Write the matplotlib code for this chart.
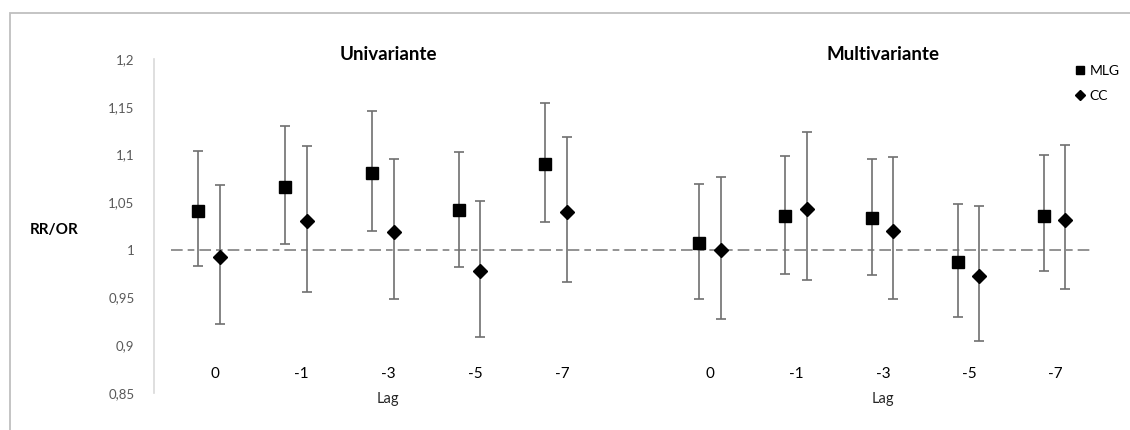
import matplotlib.pyplot as plt
from matplotlib.patches import Rectangle

# Dados
lags = ['0', '-1', '-3', '-5', '-7']

# Univariante
mlg_uni = [1.041, 1.066, 1.081, 1.042, 1.090]
mlg_uni_lo = [0.983, 1.006, 1.020, 0.982, 1.029]
mlg_uni_hi = [1.104, 1.130, 1.145, 1.103, 1.154]
cc_uni = [0.992, 1.030, 1.019, 0.978, 1.040]
cc_uni_lo = [0.922, 0.956, 0.948, 0.909, 0.966]
cc_uni_hi = [1.068, 1.109, 1.095, 1.051, 1.118]

# Multivariante
mlg_multi = [1.007, 1.035, 1.033, 0.987, 1.036]
mlg_multi_lo = [0.949, 0.975, 0.974, 0.930, 0.978]
mlg_multi_hi = [1.069, 1.098, 1.095, 1.048, 1.099]
cc_multi = [1.000, 1.043, 1.020, 0.973, 1.031]
cc_multi_lo = [0.928, 0.968, 0.949, 0.905, 0.959]
cc_multi_hi = [1.076, 1.123, 1.097, 1.046, 1.110]

y_ticks = [0.85, 0.9, 0.95, 1.0, 1.05, 1.1, 1.15, 1.2]
y_tick_labels = ['0,85', '0,9', '0,95', '1', '1,05', '1,1', '1,15', '1,2']

plt.rcParams['font.family'] = ['Lato', 'DejaVu Sans']

fig = plt.figure(figsize=(11.3, 4.3), dpi=100)
fig.patches.append(Rectangle((10 / 1130, -0.1), 1.2, 1 - 13 / 430 + 0.1, transform=fig.transFigure,
                             fill=False, edgecolor='#bfbfbf', linewidth=1.3))
ax = fig.add_axes([154 / 1130, 1 - 393 / 430, (1093 - 154) / 1130, (393 - 59) / 430])

pos_uni = [0, 1, 2, 3, 4]
pos_multi = [5.71, 6.70, 7.70, 8.69, 9.68]
off_uni = (-0.19, 0.06)
off_multi = (-0.13, 0.12)

err_style = dict(ecolor='#6f6f6f', elinewidth=1.2, capsize=3.5, capthick=1.2, linestyle='none')


def draw_series(pos, off, vals, lo, hi, marker, ms, label):
    xs = [p + off for p in pos]
    yerr = [[v - l for v, l in zip(vals, lo)], [h - v for v, h in zip(vals, hi)]]
    ax.errorbar(xs, vals, yerr=yerr, fmt='none', zorder=2, **err_style)
    ax.plot(xs, vals, linestyle='none', marker=marker, markersize=ms, color='black', zorder=3, label=label)


# Linha de referência
ax.plot([-0.5, 10.12], [1, 1], color='#808080', linewidth=1.2, dashes=(7, 3, 4, 3), zorder=1)

draw_series(pos_uni, off_uni[0], mlg_uni, mlg_uni_lo, mlg_uni_hi, 's', 8, 'MLG')
draw_series(pos_uni, off_uni[1], cc_uni, cc_uni_lo, cc_uni_hi, 'D', 7, 'CC')
draw_series(pos_multi, off_multi[0], mlg_multi, mlg_multi_lo, mlg_multi_hi, 's', 8, None)
draw_series(pos_multi, off_multi[1], cc_multi, cc_multi_lo, cc_multi_hi, 'D', 7, None)

ax.set_xlim(-0.70, 10.12)
ax.set_ylim(0.85, 1.2)
ax.set_yticks(y_ticks)
ax.set_yticklabels(y_tick_labels, color='#595959', fontsize=9.5)
ax.tick_params(axis='y', length=0, pad=14)
ax.set_xticks([])
for s in ['top', 'right', 'bottom']:
    ax.spines[s].set_visible(False)
ax.spines['left'].set_color('#d9d9d9')
ax.spines['left'].set_linewidth(1.2)

# Rótulos das categorias
for pos in (pos_uni, pos_multi):
    for p, lab in zip(pos, lags):
        ax.text(p, 0.8695, lab, ha='center', va='center', fontsize=11, color='black', clip_on=False)
    ax.text(pos[2], 0.8435, 'Lag', ha='center', va='center', fontsize=10.5, color='#262626', clip_on=False)

ax.text(pos_uni[2], 1.2045, 'Univariante', ha='center', va='center', fontsize=13.5, fontweight='bold',
        clip_on=False)
ax.text(pos_multi[2], 1.2045, 'Multivariante', ha='center', va='center', fontsize=13.5, fontweight='bold',
        clip_on=False)
fig.text(54 / 1130, 1 - 230 / 430, 'RR/OR', ha='center', va='center', fontsize=11, fontweight='bold')

ax.legend(loc='upper left', bbox_to_anchor=(1074 / 1130, 1 - 65 / 430), bbox_transform=fig.transFigure,
          frameon=False, fontsize=10, handlelength=0.8, handletextpad=0.3, labelspacing=0.9,
          borderpad=0, borderaxespad=0, markerscale=0.8)

fig.savefig('out.png', dpi=100)
